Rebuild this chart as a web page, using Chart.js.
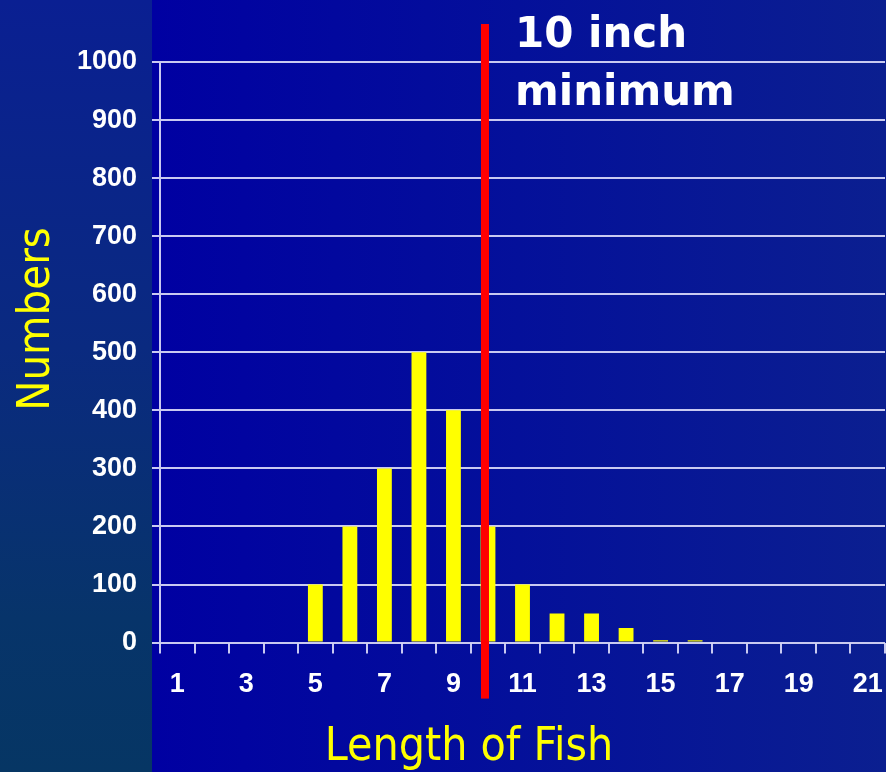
<!DOCTYPE html>
<html>
<head>
<meta charset="utf-8">
<script src="https://cdn.jsdelivr.net/npm/chart.js@4.4.0/dist/chart.umd.min.js"></script>
<style>
  html, body { margin: 0; padding: 0; background: #0404a0; }
  #wrap { width: 886px; height: 772px; position: relative; }
</style>
</head>
<body>
<div id="wrap"><canvas id="c" width="886" height="772"></canvas></div>
<script>
// ---- data ----
const lengths = ['1','2','3','4','5','6','7','8','9','10','11','12','13','14','15','16','17','18','19','20','21'];
const numbers = [0,0,0,0,100,200,300,500,400,200,100,50,50,25,4,4,0,0,0,0,0];
const yTicks = [0,100,200,300,400,500,600,700,800,900,1000];
const xTitle = 'Length of Fish';
const yTitle = 'Numbers';
const noteLines = ['10 inch', 'minimum'];
const minimumLength = '10';

const GRID = 'rgba(212,212,245,0.95)';
const CONDENSED = "'DejaVu Sans Condensed', 'DejaVu Sans', sans-serif";
const TICKFONT = "'Liberation Sans', Arial, sans-serif";

const bgPlugin = {
  id: 'bg',
  beforeDraw(chart) {
    const ctx = chart.ctx;
    const W = chart.width, H = chart.height;
    ctx.save();
    let g = ctx.createLinearGradient(152, 0, W, 0);
    g.addColorStop(0, '#0000a2');
    g.addColorStop(0.5, '#04109a');
    g.addColorStop(1, '#0b1f90');
    ctx.fillStyle = g;
    ctx.fillRect(0, 0, W, H);
    g = ctx.createLinearGradient(0, 0, 0, H);
    g.addColorStop(0, '#0a1f92');
    g.addColorStop(0.45, '#0a2a80');
    g.addColorStop(0.8, '#07346a');
    g.addColorStop(1, '#063664');
    ctx.fillStyle = g;
    ctx.fillRect(0, 0, 152, H);
    ctx.restore();
  }
};

const annoPlugin = {
  id: 'anno',
  afterDraw(chart) {
    const ctx = chart.ctx;
    const xs = chart.scales.x;
    const ca = chart.chartArea;
    ctx.save();
    const idx = lengths.indexOf(minimumLength);
    const lx = xs.getPixelForValue(idx) - 3;
    ctx.fillStyle = '#ff0000';
    ctx.fillRect(lx - 4, ca.top - 38, 8, (ca.bottom + 56) - (ca.top - 38));
    ctx.fillStyle = '#ffffff';
    ctx.font = "bold 42px 'DejaVu Sans', sans-serif";
    ctx.textAlign = 'left';
    ctx.textBaseline = 'alphabetic';
    ctx.fillText(noteLines[0], lx + 30, 47);
    ctx.fillText(noteLines[1], lx + 30, 105);
    ctx.fillStyle = '#ffff00';
    ctx.font = "46px " + CONDENSED;
    ctx.textAlign = 'center';
    ctx.fillText(xTitle, 469, 760);
    ctx.translate(49, 319);
    ctx.rotate(-Math.PI / 2);
    ctx.font = "45px " + CONDENSED;
    ctx.fillText(yTitle, 0, 0);
    ctx.restore();
  }
};

new Chart(document.getElementById('c'), {
  type: 'bar',
  data: {
    labels: lengths,
    datasets: [{
      data: numbers,
      backgroundColor: '#ffff00',
      borderWidth: 0,
      barPercentage: 0.43,
      categoryPercentage: 1.0
    }]
  },
  options: {
    responsive: false,
    animation: false,
    devicePixelRatio: 1,
    layout: { padding: { top: 62, right: 1, bottom: 56, left: 0 } },
    plugins: { legend: { display: false }, tooltip: { enabled: false } },
    scales: {
      x: {
        afterFit: (s) => { s.paddingLeft = 0; s.paddingRight = 0; },
        grid: { display: true, drawOnChartArea: false, drawTicks: true, tickLength: 11, color: GRID, lineWidth: 2, offset: true },
        border: { display: false },
        ticks: {
          color: '#ffffff',
          font: { family: TICKFONT, weight: 'bold', size: 27 },
          padding: 15,
          autoSkip: false,
          maxRotation: 0,
          callback: (v, i) => (i % 2 === 0 ? lengths[i] : '')
        }
      },
      y: {
        min: 0, max: 1000,
        afterFit: (s) => { s.width = 160; },
        afterBuildTicks: (s) => { s.ticks = yTicks.map(v => ({ value: v })); },
        grid: { color: GRID, lineWidth: 2, tickLength: 8 },
        border: { display: true, color: GRID, width: 2 },
        ticks: {
          color: '#ffffff',
          font: { family: TICKFONT, weight: 'bold', size: 27 },
          padding: 15,
          callback: (v) => String(v)
        }
      }
    }
  },
  plugins: [bgPlugin, annoPlugin]
});
</script>
</body>
</html>
